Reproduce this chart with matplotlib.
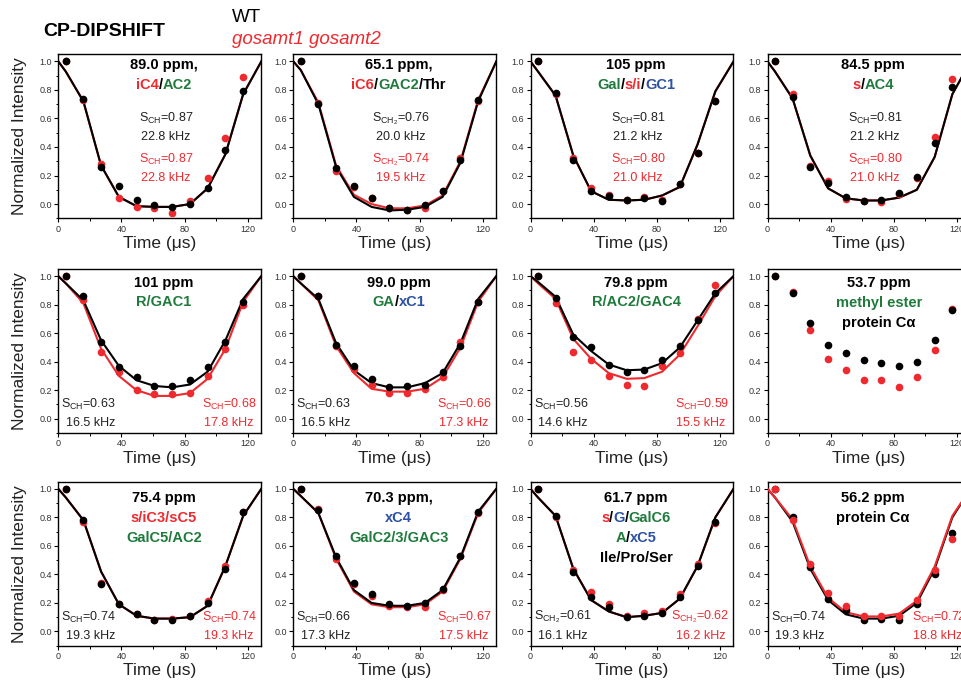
import matplotlib.pyplot as plt
from matplotlib.ticker import MultipleLocator
from matplotlib.offsetbox import TextArea, HPacker, AnnotationBbox

plt.rcParams['font.family'] = ['Liberation Sans', 'DejaVu Sans']
plt.rcParams['mathtext.default'] = 'regular'

RED = '#ee2a2f'
GREEN = '#1e7b3c'
BLUE = '#2d51a5'
BLK = 'black'

# dephasing times (us) of the data points, and of the fitted curves
t = [4.7, 15.9, 27.1, 38.4, 49.6, 60.9, 72.1, 83.4, 94.6, 105.9, 117.1]
t_fit = [0] + t + [128.6]

# ---- data: wt = WT points, mt = gosamt1 gosamt2 points, f* = fitted curves
wt_890 = [1.0, 0.74, 0.26, 0.13, 0.03, -0.01, -0.02, 0.0, 0.11, 0.38, 0.79]
mt_890 = [1.0, 0.73, 0.28, 0.04, -0.02, -0.03, -0.06, 0.02, 0.18, 0.46, 0.89]
fwt_890 = [1.0, 0.93, 0.72, 0.27, 0.05, -0.015, -0.02, -0.02, 0.0, 0.11, 0.35, 0.77, 1.0]
fmt_890 = fwt_890

wt_651 = [1.0, 0.70, 0.25, 0.13, 0.04, -0.03, -0.04, -0.01, 0.09, 0.31, 0.73]
mt_651 = [1.0, 0.71, 0.23, 0.12, 0.04, -0.03, -0.04, -0.03, 0.09, 0.32, 0.72]
fwt_651 = [1.0, 0.94, 0.70, 0.26, 0.05, -0.02, -0.045, -0.04, -0.02, 0.05, 0.29, 0.72, 1.0]
fmt_651 = [1.0, 0.94, 0.71, 0.27, 0.065, 0.0, -0.03, -0.03, -0.01, 0.06, 0.30, 0.73, 1.0]

wt_105 = [1.0, 0.78, 0.31, 0.09, 0.055, 0.03, 0.04, 0.02, 0.14, 0.36, 0.72]
mt_105 = [1.0, 0.77, 0.32, 0.11, 0.06, 0.03, 0.05, 0.03, 0.14, 0.36, 0.72]
fwt_105 = [1.0, 0.93, 0.76, 0.34, 0.09, 0.03, 0.025, 0.03, 0.06, 0.12, 0.42, 0.79, 1.0]
fmt_105 = fwt_105

wt_845 = [1.0, 0.75, 0.26, 0.145, 0.05, 0.02, 0.03, 0.08, 0.19, 0.43, 0.82]
mt_845 = [1.0, 0.77, 0.27, 0.16, 0.035, 0.02, 0.016, 0.07, 0.18, 0.47, 0.88]
fwt_845 = [1.0, 0.93, 0.74, 0.34, 0.11, 0.04, 0.025, 0.025, 0.045, 0.10, 0.33, 0.77, 1.0]
fmt_845 = fwt_845

wt_101 = [1.0, 0.86, 0.54, 0.36, 0.29, 0.23, 0.23, 0.27, 0.36, 0.54, 0.82]
mt_101 = [1.0, 0.83, 0.47, 0.33, 0.20, 0.17, 0.17, 0.18, 0.30, 0.49, 0.80]
fwt_101 = [1.0, 0.95, 0.83, 0.55, 0.37, 0.27, 0.23, 0.22, 0.24, 0.33, 0.55, 0.84, 1.0]
fmt_101 = [1.0, 0.95, 0.81, 0.49, 0.30, 0.20, 0.16, 0.16, 0.18, 0.28, 0.49, 0.82, 1.0]

wt_990 = [1.0, 0.86, 0.52, 0.37, 0.28, 0.22, 0.23, 0.24, 0.33, 0.51, 0.82]
mt_990 = [1.0, 0.86, 0.51, 0.35, 0.24, 0.18, 0.18, 0.21, 0.29, 0.54, 0.82]
fwt_990 = [1.0, 0.95, 0.84, 0.53, 0.34, 0.25, 0.22, 0.22, 0.25, 0.32, 0.53, 0.84, 1.0]
fmt_990 = [1.0, 0.95, 0.83, 0.51, 0.32, 0.21, 0.19, 0.19, 0.21, 0.29, 0.50, 0.82, 1.0]

wt_798 = [1.0, 0.85, 0.57, 0.50, 0.38, 0.33, 0.34, 0.41, 0.51, 0.69, 0.88]
mt_798 = [1.0, 0.81, 0.47, 0.41, 0.30, 0.24, 0.23, 0.37, 0.46, 0.70, 0.94]
fwt_798 = [1.0, 0.96, 0.855, 0.59, 0.475, 0.38, 0.34, 0.345, 0.39, 0.50, 0.69, 0.88, 1.0]
fmt_798 = [1.0, 0.95, 0.84, 0.56, 0.42, 0.32, 0.28, 0.285, 0.33, 0.45, 0.65, 0.86, 1.0]

wt_537 = [1.0, 0.88, 0.67, 0.52, 0.46, 0.41, 0.39, 0.37, 0.40, 0.55, 0.76]
mt_537 = [1.0, 0.89, 0.62, 0.42, 0.34, 0.27, 0.27, 0.22, 0.29, 0.48, 0.77]

wt_754 = [1.0, 0.78, 0.33, 0.19, 0.12, 0.08, 0.08, 0.11, 0.20, 0.44, 0.84]
mt_754 = [1.0, 0.77, 0.34, 0.19, 0.12, 0.08, 0.09, 0.11, 0.21, 0.46, 0.84]
fwt_754 = [1.0, 0.94, 0.78, 0.42, 0.19, 0.11, 0.09, 0.09, 0.10, 0.18, 0.46, 0.81, 1.0]
fmt_754 = fwt_754

wt_703 = [1.0, 0.855, 0.53, 0.34, 0.26, 0.19, 0.18, 0.20, 0.30, 0.53, 0.84]
mt_703 = [1.0, 0.86, 0.51, 0.33, 0.25, 0.18, 0.17, 0.17, 0.29, 0.53, 0.83]
fwt_703 = [1.0, 0.95, 0.83, 0.52, 0.29, 0.20, 0.18, 0.18, 0.20, 0.29, 0.52, 0.84, 1.0]
fmt_703 = [1.0, 0.95, 0.83, 0.51, 0.28, 0.19, 0.17, 0.17, 0.19, 0.28, 0.51, 0.83, 1.0]

wt_617 = [1.0, 0.81, 0.42, 0.24, 0.17, 0.10, 0.11, 0.13, 0.24, 0.46, 0.77]
mt_617 = [1.0, 0.80, 0.43, 0.28, 0.19, 0.105, 0.13, 0.145, 0.26, 0.47, 0.76]
fwt_617 = [1.0, 0.94, 0.81, 0.44, 0.22, 0.14, 0.10, 0.11, 0.13, 0.23, 0.46, 0.80, 1.0]
fmt_617 = fwt_617

wt_562 = [1.0, 0.80, 0.45, 0.23, 0.15, 0.08, 0.085, 0.08, 0.19, 0.40, 0.69]
mt_562 = [1.0, 0.78, 0.47, 0.27, 0.18, 0.105, 0.105, 0.105, 0.22, 0.43, 0.65]
fwt_562 = [1.0, 0.94, 0.77, 0.44, 0.22, 0.12, 0.09, 0.09, 0.11, 0.20, 0.44, 0.80, 1.0]
fmt_562 = [1.0, 0.94, 0.785, 0.455, 0.235, 0.135, 0.105, 0.105, 0.125, 0.215, 0.455, 0.81, 1.0]

SCH = 'S$_{CH}$'
SCH2 = 'S$_{CH_2}$'

# title lines: list of (text, colour) pieces per line
panels = [
    dict(title=[[('89.0 ppm,', BLK)], [('iC4', RED), ('/', BLK), ('AC2', GREEN)]],
         wt=wt_890, mt=mt_890, fwt=fwt_890, fmt=fmt_890,
         s_wt=(SCH + '=0.87', '22.8 kHz'), s_mt=(SCH + '=0.87', '22.8 kHz')),
    dict(title=[[('65.1 ppm,', BLK)], [('iC6', RED), ('/', BLK), ('GAC2', GREEN), ('/', BLK), ('Thr', BLK)]],
         wt=wt_651, mt=mt_651, fwt=fwt_651, fmt=fmt_651,
         s_wt=(SCH2 + '=0.76', '20.0 kHz'), s_mt=(SCH2 + '=0.74', '19.5 kHz')),
    dict(title=[[('105 ppm', BLK)], [('Gal', GREEN), ('/', BLK), ('s/i', RED), ('/', BLK), ('GC1', BLUE)]],
         wt=wt_105, mt=mt_105, fwt=fwt_105, fmt=fmt_105,
         s_wt=(SCH + '=0.81', '21.2 kHz'), s_mt=(SCH + '=0.80', '21.0 kHz')),
    dict(title=[[('84.5 ppm', BLK)], [('s', RED), ('/', BLK), ('AC4', GREEN)]],
         wt=wt_845, mt=mt_845, fwt=fwt_845, fmt=fmt_845,
         s_wt=(SCH + '=0.81', '21.2 kHz'), s_mt=(SCH + '=0.80', '21.0 kHz')),
    dict(title=[[('101 ppm', BLK)], [('R/GAC1', GREEN)]],
         wt=wt_101, mt=mt_101, fwt=fwt_101, fmt=fmt_101,
         s_wt=(SCH + '=0.63', '16.5 kHz'), s_mt=(SCH + '=0.68', '17.8 kHz')),
    dict(title=[[('99.0 ppm', BLK)], [('GA', GREEN), ('/', BLK), ('xC1', BLUE)]],
         wt=wt_990, mt=mt_990, fwt=fwt_990, fmt=fmt_990,
         s_wt=(SCH + '=0.63', '16.5 kHz'), s_mt=(SCH + '=0.66', '17.3 kHz')),
    dict(title=[[('79.8 ppm', BLK)], [('R/AC2/GAC4', GREEN)]],
         wt=wt_798, mt=mt_798, fwt=fwt_798, fmt=fmt_798,
         s_wt=(SCH + '=0.56', '14.6 kHz'), s_mt=(SCH + '=0.59', '15.5 kHz')),
    dict(title=[[('53.7 ppm', BLK)], [('methyl ester', GREEN)], [('protein C\u03b1', BLK)]],
         wt=wt_537, mt=mt_537, fwt=None, fmt=None, s_wt=None, s_mt=None, tx=0.55),
    dict(title=[[('75.4 ppm', BLK)], [('s/iC3/sC5', RED)], [('GalC5/AC2', GREEN)]],
         wt=wt_754, mt=mt_754, fwt=fwt_754, fmt=fmt_754,
         s_wt=(SCH + '=0.74', '19.3 kHz'), s_mt=(SCH + '=0.74', '19.3 kHz')),
    dict(title=[[('70.3 ppm,', BLK)], [('xC4', BLUE)], [('GalC2/3/GAC3', GREEN)]],
         wt=wt_703, mt=mt_703, fwt=fwt_703, fmt=fmt_703,
         s_wt=(SCH + '=0.66', '17.3 kHz'), s_mt=(SCH + '=0.67', '17.5 kHz')),
    dict(title=[[('61.7 ppm', BLK)],
                [('s', RED), ('/', BLK), ('G', BLUE), ('/', BLK), ('GalC6', GREEN)],
                [('A', GREEN), ('/', BLK), ('xC5', BLUE)],
                [('Ile/Pro/Ser', BLK)]],
         wt=wt_617, mt=mt_617, fwt=fwt_617, fmt=fmt_617,
         s_wt=(SCH2 + '=0.61', '16.1 kHz'), s_mt=(SCH2 + '=0.62', '16.2 kHz')),
    dict(title=[[('56.2 ppm', BLK)], [('protein C\u03b1', BLK)]],
         wt=wt_562, mt=mt_562, fwt=fwt_562, fmt=fmt_562,
         s_wt=(SCH + '=0.74', '19.3 kHz'), s_mt=(SCH + '=0.72', '18.8 kHz'), red_top=True),
]

W, H = 961, 684
fig = plt.figure(figsize=(W / 100, H / 100), dpi=100)

col_left = [58.3, 293.3, 530.5, 767.5]
row_top = [54.3, 269.0, 481.7]
ax_w, ax_h = 203.0, 164.0
title_off = [10.5, 13.5, 16.5]   # px from axes top to first title line
FS_S = 9


def colored_line(ax, x, y, parts):
    boxes = [TextArea(s, textprops=dict(color=c, fontsize=10.5, fontweight='bold'))
             for s, c in parts]
    pack = HPacker(children=boxes, align='baseline', pad=0, sep=0)
    ab = AnnotationBbox(pack, (x, y), xycoords='axes fraction',
                        box_alignment=(0.5, 0.5), frameon=False, pad=0)
    ax.add_artist(ab)


for i, p in enumerate(panels):
    r, c = divmod(i, 4)
    ax = fig.add_axes([col_left[c] / W, 1 - (row_top[r] + ax_h) / H, ax_w / W, ax_h / H])
    ax.set_xlim(0, 128.6)
    ax.set_ylim(-0.1, 1.05)

    red_top = p.get('red_top', False)
    zr, zk = (3, 2) if red_top else (2, 3)
    if p['fwt'] is not None:
        ax.plot(t_fit, p['fmt'], color=RED, lw=1.5, zorder=zr)
        ax.plot(t_fit, p['fwt'], color=BLK, lw=1.5, zorder=zk)
    ax.plot(t, p['mt'], 'o', color=RED, ms=5.5, mec='none', zorder=zr + 2)
    ax.plot(t, p['wt'], 'o', color=BLK, ms=5.5, mec='none', zorder=zk + 2)

    # ticks
    ax.xaxis.set_major_locator(MultipleLocator(40))
    ax.xaxis.set_minor_locator(MultipleLocator(20))
    ax.yaxis.set_major_locator(MultipleLocator(0.2))
    ax.yaxis.set_minor_locator(MultipleLocator(0.1))
    ax.yaxis.set_major_formatter(plt.FormatStrFormatter('%.1f'))
    ax.tick_params(which='major', direction='out', length=3, width=0.8,
                   labelsize=6.5, labelcolor='#333333', pad=1.5)
    ax.tick_params(which='minor', direction='out', length=1.8, width=0.7)
    for sp in ax.spines.values():
        sp.set_linewidth(1.0)

    ax.text(0.5, -25 / ax_h, 'Time (\u03bcs)', transform=ax.transAxes,
            ha='center', va='center', fontsize=12.5, color='#222222')

    # title block
    tx = p.get('tx', 0.52)
    y0 = 1 - title_off[r] / ax_h
    for k, parts in enumerate(p['title']):
        colored_line(ax, tx, y0 - k * 20 / ax_h, parts)

    # order parameter texts
    if p['s_wt'] is not None:
        if r == 0:
            xs = 0.53
            ax.text(xs, 0.609, p['s_wt'][0], transform=ax.transAxes, ha='center', va='center',
                    fontsize=FS_S, color='#222222')
            ax.text(xs, 0.496, p['s_wt'][1], transform=ax.transAxes, ha='center', va='center',
                    fontsize=FS_S, color='#222222')
            ax.text(xs, 0.357, p['s_mt'][0], transform=ax.transAxes, ha='center', va='center',
                    fontsize=FS_S, color=RED)
            ax.text(xs, 0.243, p['s_mt'][1], transform=ax.transAxes, ha='center', va='center',
                    fontsize=FS_S, color=RED)
        else:
            ax.text(0.015, 0.175, p['s_wt'][0], transform=ax.transAxes, ha='left', va='center',
                    fontsize=FS_S, color='#222222')
            ax.text(0.038, 0.061, p['s_wt'][1], transform=ax.transAxes, ha='left', va='center',
                    fontsize=FS_S, color='#222222')
            ax.text(0.978, 0.175, p['s_mt'][0], transform=ax.transAxes, ha='right', va='center',
                    fontsize=FS_S, color=RED)
            ax.text(0.96, 0.061, p['s_mt'][1], transform=ax.transAxes, ha='right', va='center',
                    fontsize=FS_S, color=RED)

    if c == 0:
        fig.text(20 / W, 1 - (row_top[r] + ax_h / 2) / H, 'Normalized Intensity',
                 rotation=90, ha='center', va='center', fontsize=12.5, color='#222222')

fig.text(43 / W, 1 - 32 / H, 'CP-DIPSHIFT', ha='left', va='center',
         fontsize=14, fontweight='bold')
fig.text(232 / W, 1 - 18 / H, 'WT', ha='left', va='center', fontsize=13.5)
fig.text(232 / W, 1 - 40 / H, 'gosamt1 gosamt2', ha='left', va='center',
         fontsize=13.5, style='italic', color=RED)

fig.savefig('out.png', dpi=100)
